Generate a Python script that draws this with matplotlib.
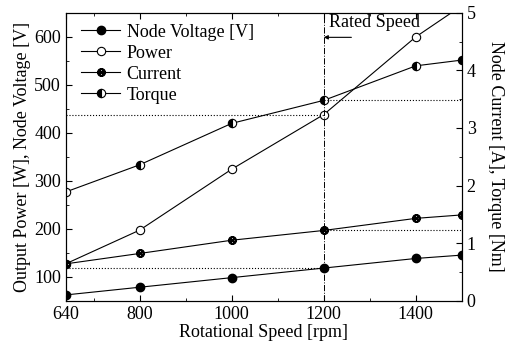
import matplotlib
matplotlib.use('Agg')
import matplotlib.pyplot as plt
from matplotlib.ticker import MultipleLocator

# rotational speed [rpm]
rpm = [640, 800, 1000, 1200, 1400, 1500]
node_voltage = [62, 78, 98, 118, 138, 145]        # [V]
power = [127, 197, 324, 438, 600, 665]            # [W]
current = [0.64, 0.82, 1.05, 1.22, 1.43, 1.49]    # [A]
torque = [1.89, 2.36, 3.08, 3.48, 4.08, 4.18]     # [Nm]
rated_idx = 3

plt.rcParams['font.family'] = ['Liberation Serif', 'DejaVu Serif']
plt.rcParams['font.size'] = 13
plt.rcParams['mathtext.fontset'] = 'stix'

fig = plt.figure(figsize=(5.07, 3.48), dpi=100)
ax = fig.add_axes([0.130, 0.136, 0.781, 0.827])
ax2 = ax.twinx()

lw = 0.8
h1, = ax.plot(rpm, node_voltage, '-o', color='black', lw=lw, ms=6,
              mfc='black', label='Node Voltage [V]')
h2, = ax.plot(rpm, power, '-o', color='black', lw=lw, ms=6,
              mfc='white', mew=0.8, label='Power')
h3, = ax2.plot(rpm, current, '-', color='black', lw=lw, marker=r'$\otimes$',
               ms=5.5, label='Current')
h4, = ax2.plot(rpm, torque, '-o', color='black', lw=lw, ms=6,
               fillstyle='left', mfc='black', mfcalt='white', mew=0.8,
               label='Torque')

ax.set_xlim(640, 1500)
ax.set_ylim(50, 650)
ax2.set_ylim(0, 5)

# rated speed guides
xr = rpm[rated_idx]
ax.axvline(xr, color='black', lw=0.7, ls='-.')
ax.plot([640, xr], [power[rated_idx]] * 2, ':', color='black', lw=0.8)
ax.plot([640, xr], [node_voltage[rated_idx]] * 2, ':', color='black', lw=0.8)
ax2.plot([xr, 1500], [torque[rated_idx]] * 2, ':', color='black', lw=0.8)
ax2.plot([xr, 1500], [current[rated_idx]] * 2, ':', color='black', lw=0.8)

ax.annotate('', xy=(xr, 599), xytext=(1260, 599),
            arrowprops=dict(arrowstyle='-|>', color='black', lw=0.8,
                            mutation_scale=6, shrinkA=0, shrinkB=0))
ax.text(1211, 629, 'Rated Speed', ha='left', va='center')

ax.set_xticks([640, 800, 1000, 1200, 1400])
ax.xaxis.set_minor_locator(MultipleLocator(100))
ax.set_yticks([100, 200, 300, 400, 500, 600])
ax.yaxis.set_minor_locator(MultipleLocator(50))
ax2.set_yticks([0, 1, 2, 3, 4, 5])
ax2.yaxis.set_minor_locator(MultipleLocator(0.5))

ax.tick_params(which='both', direction='in', top=True, right=False)
ax.tick_params(which='major', length=4)
ax.tick_params(which='minor', length=2)
ax2.tick_params(which='both', direction='in')
ax2.tick_params(which='major', length=4)
ax2.tick_params(which='minor', length=2)

ax.set_xlabel('Rotational Speed [rpm]', labelpad=1)
ax.set_ylabel('Output Power [W], Node Voltage [V]', labelpad=2)
ax2.set_ylabel('Node Current [A], Torque [Nm]', rotation=270, labelpad=20)

ax.legend(handles=[h1, h2, h3, h4], loc='upper left', frameon=False,
          handlelength=2.2, handletextpad=0.35, labelspacing=0.22,
          borderaxespad=0.2, bbox_to_anchor=(0.01, 1.0))

fig.savefig('out.png', dpi=100)
